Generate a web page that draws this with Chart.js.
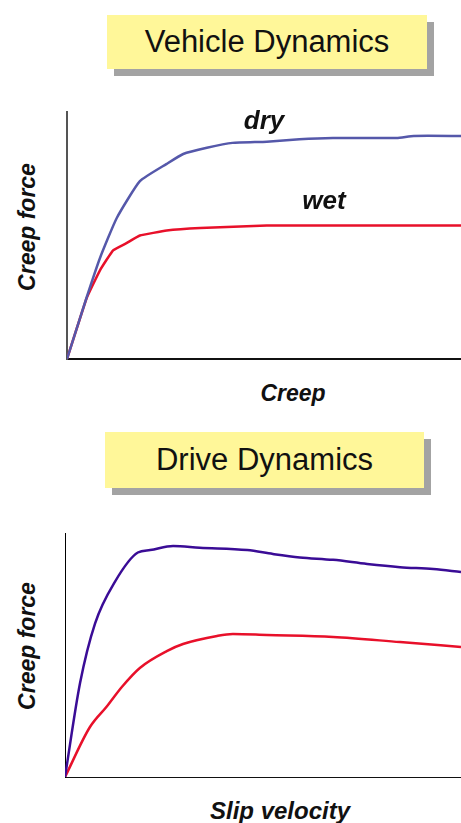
<!DOCTYPE html>
<html>
<head>
<meta charset="utf-8">
<script src="https://cdn.jsdelivr.net/npm/chart.js@4/dist/chart.umd.min.js"></script>
<style>
  html, body { margin: 0; padding: 0; background: #fff; }
  body { width: 461px; height: 823px; position: relative; overflow: hidden; font-family: "Liberation Sans", Arial, sans-serif; }
  .title { position: absolute; background: #fff799; box-shadow: 7px 7px 0 #a3a3a3; color: #111;
           font-size: 31px; display: flex; align-items: center; justify-content: center; }
  .lbl { position: absolute; font-weight: bold; font-style: italic; font-size: 23px; color: #111; white-space: nowrap; }
  .rot { transform: translate(-50%, -50%) rotate(-90deg); }
  .hz { transform: translate(-50%, -50%); }
  canvas { position: absolute; }
</style>
</head>
<body>
<div class="title" style="left:107px;top:15px;width:320px;height:54px;">Vehicle Dynamics</div>
<div class="title" style="left:105px;top:432px;width:319px;height:56px;">Drive Dynamics</div>
<div class="lbl rot" style="left:27px;top:227px;">Creep force</div>
<div class="lbl hz" style="left:293px;top:393px;">Creep</div>
<div class="lbl rot" style="left:27px;top:646px;">Creep force</div>
<div class="lbl hz" style="left:280px;top:811px;font-size:24px;">Slip velocity</div>
<div style="position:absolute;left:0;top:100px;width:461px;height:270px;"><canvas id="c1"></canvas></div>
<div style="position:absolute;left:0;top:520px;width:461px;height:270px;"><canvas id="c2"></canvas></div>
<script>
// ---- Data (x and y in relative units 0..100) ----
const vehicleCreep   = [0, 5, 8.4, 12.6, 18.5, 25.3, 29.5, 35.5, 42, 50.7, 59, 67.5, 83.7, 88, 100];
const vehicleDry     = [0, 25, 41, 57, 72, 79, 83, 85.5, 87.5, 88, 89, 89.5, 89.5, 90.3, 90.3];
const vehicleWetX    = [0, 5, 8.4, 11.7, 15.2, 18.5, 25.3, 33.8, 50.7, 100];
const vehicleWet     = [0, 24.7, 36, 44, 47, 50, 52, 53, 54, 54];

const driveDryX      = [0, 3.8, 7.6, 12.6, 18.4, 21.5, 27.3, 34, 46, 52.5, 59.3, 67.7, 76.3, 84.6, 93, 100];
const driveDry       = [0, 38.5, 63, 80, 92, 93, 94.7, 94, 93, 91.4, 90, 89, 87.3, 86, 85.2, 84];
const driveWetX      = [0, 6.3, 10.6, 14.4, 18.9, 25.7, 29.8, 38.4, 42.4, 51, 67.7, 84.6, 100];
const driveWet       = [0, 20.5, 29, 37, 44.7, 51.6, 54.5, 57.8, 58.6, 58.2, 57.4, 55.3, 53.3];

const seriesNames    = ["dry", "wet"];
// label anchor points (data units) for the curve names
const vehicleLabelAt = [[50, 96], [65.2, 63.6]];
const driveLabelAt   = [[56.6, 98.4], [55.3, 65.2]];

function pts(xs, ys) { return xs.map((x, i) => ({ x: x, y: ys[i] })); }

const curveLabels = {
  id: 'curveLabels',
  afterDatasetsDraw(chart, args, opts) {
    const ctx = chart.ctx;
    ctx.save();
    ctx.font = 'italic bold 26px "Liberation Sans", Arial, sans-serif';
    ctx.fillStyle = '#111';
    ctx.textAlign = 'center';
    ctx.textBaseline = 'middle';
    opts.names.forEach((n, i) => {
      const p = opts.at[i];
      ctx.fillText(n, chart.scales.x.getPixelForValue(p[0]), chart.scales.y.getPixelForValue(p[1]));
    });
    ctx.restore();
  }
};

function makeChart(id, datasets, pad, labelAt, yAxisColor, axisW) {
  return new Chart(document.getElementById(id), {
    type: 'line',
    data: { datasets: datasets },
    plugins: [curveLabels],
    options: {
      responsive: true,
      maintainAspectRatio: false,
      animation: false,
      layout: { padding: pad },
      elements: { point: { radius: 0 }, line: { borderWidth: 2.5 } },
      plugins: { legend: { display: false }, tooltip: { enabled: false },
                 curveLabels: { names: seriesNames, at: labelAt } },
      scales: {
        x: { type: 'linear', min: 0, max: 100,
             ticks: { display: false }, grid: { display: false, drawTicks: false },
             border: { display: true, color: '#111', width: axisW },
             afterFit: s => { s.height = 0; } },
        y: { type: 'linear', min: 0, max: 100,
             ticks: { display: false }, grid: { display: false, drawTicks: false },
             border: { display: true, color: yAxisColor, width: axisW },
             afterFit: s => { s.width = 0; } }
      }
    }
  });
}

makeChart('c1', [
  { data: pts(vehicleCreep, vehicleDry), borderColor: '#5558aa', tension: 0.15 },
  { data: pts(vehicleWetX, vehicleWet), borderColor: '#e8102a', tension: 0.1 }
], { left: 67, top: 12, right: 0, bottom: 11 }, vehicleLabelAt, '#555', 2);

makeChart('c2', [
  { data: pts(driveDryX, driveDry), borderColor: '#3a0c96', tension: 0.4, cubicInterpolationMode: 'monotone' },
  { data: pts(driveWetX, driveWet), borderColor: '#e8102a', tension: 0.4, cubicInterpolationMode: 'monotone' }
], { left: 65, top: 13, right: 0, bottom: 13 }, '#111', 1.5);
</script>
</body>
</html>
